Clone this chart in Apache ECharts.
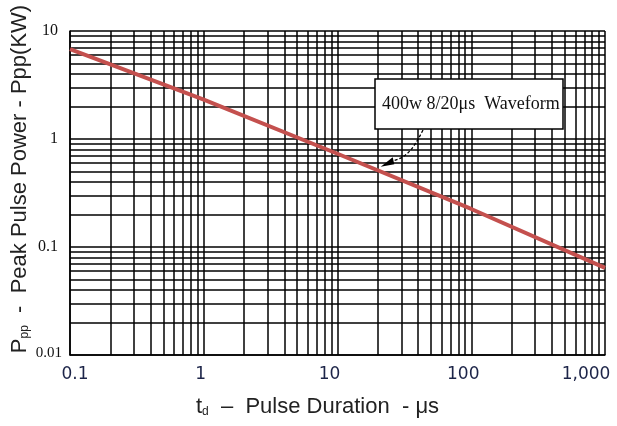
<!DOCTYPE html>
<html>
<head>
<meta charset="utf-8">
<script src="https://cdn.jsdelivr.net/npm/echarts@6/dist/echarts.min.js"></script>
<style>html,body{margin:0;padding:0;background:#fff}#c{width:617px;height:426px}</style>
</head>
<body>
<div id="c"></div>
<script>
// ---- data ----
const duration = [0.1, 1, 10, 100, 1000];          // µs
const power = [6.8, 2.32, 0.73, 0.225, 0.064];     // kW
const xTickLabels = ['0.1', '1', '10', '100', '1,000'];
const yTickLabels = ['0.01', '0.1', '1', '10'];
const xDecades = [0.1, 1, 10, 100];
const yDecades = [0.01, 0.1, 1];
const minorMultipliers = [2, 3, 4, 5, 6, 7, 8, 9];
const annotationText = '400w 8/20\u03bcs  Waveform';

const xMinor = [];
xDecades.forEach(d => minorMultipliers.forEach(m => xMinor.push(+(d * m).toPrecision(6))));
const yMinor = [];
yDecades.forEach(d => minorMultipliers.forEach(m => yMinor.push(+(d * m).toPrecision(6))));

const chart = echarts.init(document.getElementById('c'));
const gridColor = '#000';
const xLabelStyles = ['x0', 'x1', 'x2', 'x3', 'x4'];

chart.setOption({
  animation: false,
  backgroundColor: '#fff',
  grid: { left: 70, right: 12, top: 31, bottom: 71, containLabel: false, outerBoundsMode: 'none' },
  xAxis: {
    type: 'log', logBase: 10, min: 0.1, max: 1000,
    axisLine: { show: true, lineStyle: { color: gridColor, width: 1.5 } },
    axisTick: { show: false },
    splitLine: { show: true, lineStyle: { color: gridColor, width: 1.5 } },
    axisLabel: {
      margin: 11,
      fontFamily: 'DejaVu Sans', fontSize: 17, color: '#1c2448',
      formatter: v => {
        const i = Math.round(Math.log10(v)) + 1;
        return '{' + xLabelStyles[i] + '|' + xTickLabels[i] + '}';
      },
      rich: {
        x0: { padding: [0, 0, 0, 10] },
        x1: { padding: [0, 6, 0, 0] },
        x2: { padding: [0, 16, 0, 0] },
        x3: { padding: [0, 16, 0, 0] },
        x4: { padding: [0, 38, 0, 0] }
      }
    },
    name: '{t|t}{sub|d}{r|  \u2013  Pulse Duration  - \u03bcs}',
    nameLocation: 'middle',
    nameGap: 41,
    nameMoveOverlap: false,
    nameTextStyle: {
      fontFamily: 'Liberation Sans', fontSize: 22, color: '#222',
      rich: {
        t: { fontFamily: 'Liberation Sans', fontSize: 22, color: '#222' },
        sub: { fontFamily: 'Liberation Sans', fontSize: 12, color: '#222', verticalAlign: 'bottom', padding: [10, 0, 0, 0] },
        r: { fontFamily: 'Liberation Sans', fontSize: 22, color: '#222', padding: [0, 40, 0, 0] }
      }
    }
  },
  yAxis: {
    type: 'log', logBase: 10, min: 0.01, max: 10,
    axisLine: { show: true, lineStyle: { color: gridColor, width: 1.5 } },
    axisTick: { show: false },
    splitLine: { show: true, lineStyle: { color: gridColor, width: 1.5 } },
    axisLabel: {
      margin: 8,
      fontFamily: 'Liberation Serif', fontSize: 16, color: '#111',
      formatter: v => {
        const i = Math.round(Math.log10(v)) + 2;
        return i === 0 ? '{s|' + yTickLabels[i] + '}' : '{n|' + yTickLabels[i] + '}';
      },
      rich: {
        s: { fontFamily: 'Liberation Serif', fontSize: 15, color: '#111', padding: [0, 0, 4, 0] },
        n: { fontFamily: 'Liberation Serif', fontSize: 16, color: '#111', padding: [0, 4, 0, 0] }
      }
    },
    name: '{p|P}{sub|pp}{r|  -  Peak Pulse Power - Ppp(KW)}',
    nameLocation: 'middle',
    nameRotate: 90,
    nameGap: 39,
    nameMoveOverlap: false,
    nameTextStyle: {
      fontFamily: 'Liberation Sans', fontSize: 22, color: '#222',
      rich: {
        p: { fontFamily: 'Liberation Sans', fontSize: 22, color: '#222', padding: [0, 0, 0, 28] },
        sub: { fontFamily: 'Liberation Sans', fontSize: 12, color: '#222', verticalAlign: 'bottom', padding: [10, 0, 0, 0] },
        r: { fontFamily: 'Liberation Sans', fontSize: 22, color: '#222' }
      }
    }
  },
  series: [
    {
      type: 'line',
      name: 'grid',
      data: duration.map((d, i) => [d, power[i]]),
      showSymbol: false,
      lineStyle: { opacity: 0 },
      silent: true,
      z: 1,
      markLine: {
        silent: true,
        symbol: 'none',
        label: { show: false },
        animation: false,
        lineStyle: { color: gridColor, width: 1.5, type: 'solid' },
        emphasis: { disabled: true },
        data: xMinor.map(v => ({ xAxis: v })).concat(yMinor.map(v => ({ yAxis: v })))
      }
    },
    {
      type: 'line',
      name: 'Ppp',
      data: duration.map((d, i) => [d, power[i]]),
      showSymbol: false,
      smooth: false,
      lineStyle: { color: '#c4504e', width: 4 },
      z: 5
    }
  ],
  graphic: [
    {
      type: 'rect', z: 100,
      shape: { x: 375, y: 79, width: 188, height: 50 },
      style: { fill: '#fff', stroke: '#000', lineWidth: 1.5 }
    },
    {
      type: 'text', z: 101, x: 382, y: 104,
      style: {
        text: annotationText, fill: '#111',
        font: '18px "Liberation Serif"', verticalAlign: 'middle', align: 'left'
      }
    },
    {
      type: 'bezierCurve', z: 101,
      shape: { x1: 423, y1: 130, cpx1: 412, cpy1: 152, cpx2: 405, cpy2: 158, x2: 392, y2: 161 },
      style: { stroke: '#000', lineWidth: 1.3, lineDash: [3, 2], fill: null }
    },
    {
      type: 'polygon', z: 101,
      shape: { points: [[380.7, 166.7], [392.7, 157.3], [394.3, 164.3]] },
      style: { fill: '#000' }
    }
  ]
});
</script>
</body>
</html>
